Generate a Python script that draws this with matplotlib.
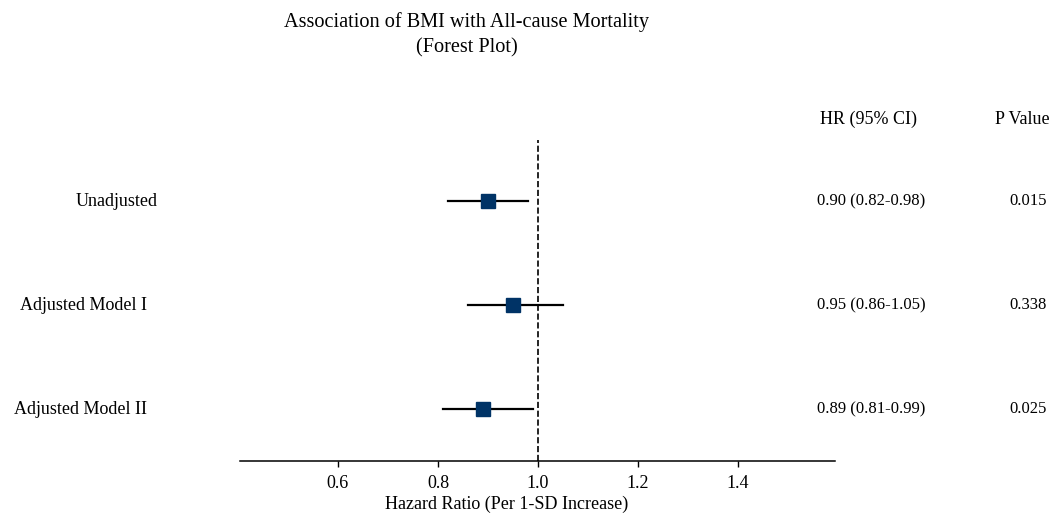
import matplotlib
matplotlib.use("Agg")
import matplotlib.pyplot as plt

plt.rcParams['font.family'] = 'serif'
plt.rcParams['font.serif'] = ['Liberation Serif', 'DejaVu Serif']

# data
models = ["Unadjusted", "Adjusted Model I", "Adjusted Model II"]
hr = [0.90, 0.95, 0.89]
ci_low = [0.82, 0.86, 0.81]
ci_high = [0.98, 1.05, 0.99]
p_values = ["0.015", "0.338", "0.025"]
ticks = [0.6, 0.8, 1.0, 1.2, 1.4]

fig = plt.figure(figsize=(10.54, 5.14), dpi=100)
ax = fig.add_axes([0.2277, 0.1031, 0.5645, 0.6245])

ypos = [3, 2, 1]
label_x = [0.24, 0.218, 0.218]

for i in range(len(models)):
    y = ypos[i]
    ax.plot([ci_low[i], ci_high[i]], [y, y], color='black', lw=1.6, zorder=2)
    ax.plot(hr[i], y, marker='s', ms=9.5, color='#003366', zorder=3)
    # left labels
    ax.text(label_x[i], y, models[i], ha='right', va='center', fontsize=13, clip_on=False)
    # HR text
    txt = "%.2f (%.2f-%.2f)" % (hr[i], ci_low[i], ci_high[i])
    ax.text(1.666, y, txt, ha='center', va='center', fontsize=12, clip_on=False)
    ax.text(2.018, y, p_values[i], ha='right', va='center', fontsize=12, clip_on=False)

ax.text(1.662, 3.79, "HR (95% CI)", ha='center', va='center', fontsize=13, clip_on=False)
ax.text(2.024, 3.79, "P Value", ha='right', va='center', fontsize=13, clip_on=False)

ax.axvline(1.0, color='black', ls='--', lw=1.2, zorder=1)

ax.set_xlim(0.404, 1.594)
ax.set_ylim(0.5, 3.59)
ax.set_xticks(ticks)
ax.set_xticklabels(["%.1f" % t for t in ticks], fontsize=13)
ax.set_yticks([])
for s in ['top', 'right', 'left']:
    ax.spines[s].set_visible(False)
ax.spines['bottom'].set_linewidth(1.1)
ax.tick_params(axis='x', length=4, width=1, pad=6)

fig.text(0.4805, 0.0195, "Hazard Ratio (Per 1-SD Increase)", ha='center', va='center', fontsize=13)
fig.text(0.443, 0.933, "Association of BMI with All-cause Mortality\n(Forest Plot)",
         ha='center', va='center', fontsize=14.6, linespacing=1.45)

fig.savefig("out.png", dpi=100)
